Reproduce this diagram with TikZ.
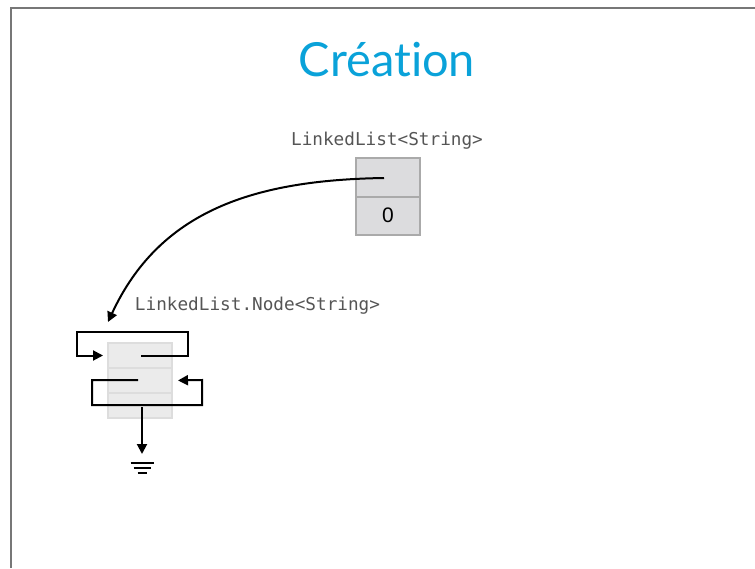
\documentclass[tikz,border=0pt]{standalone}
\usepackage{fontspec}
\setmainfont{Lato}
\newfontfamily\titlefont[Ligatures=NoCommon]{Lato}
\newfontfamily\monofont{DejaVu Sans Mono}
\newfontfamily\cellfont{Liberation Sans}
\usetikzlibrary{arrows.meta}
\definecolor{titleblue}{HTML}{0AA2D9}
\definecolor{labelgray}{HTML}{555555}
\definecolor{cellfill}{HTML}{DCDCDE}
\definecolor{celldraw}{HTML}{AAAAAA}
\definecolor{nodefill}{HTML}{EBEBEB}
\definecolor{nodedraw}{HTML}{DDDDDD}
\definecolor{framegray}{HTML}{777777}
\tikzset{
  cell/.style={draw=celldraw, fill=cellfill, line width=2pt, minimum width=64pt, minimum height=38.5pt, inner sep=0pt, font=\cellfont\fontsize{21}{24}\selectfont},
  ncell/.style={draw=nodedraw, fill=nodefill, line width=2pt, minimum width=64pt, minimum height=25pt, inner sep=0pt},
  link/.style={line width=2pt, black},
  arr/.style={link, -{Triangle[length=10pt,width=10pt]}},
  mono/.style={font=\monofont\fontsize{17.7}{20}\selectfont, text=labelgray, inner sep=0pt},
  gnd/.style={line width=2.4pt, black}
}
\begin{document}
\begin{tikzpicture}[x=1pt,y=-1pt]
\useasboundingbox (0,0) rectangle (755,568);
\draw[framegray, line width=1.5pt] (11,568) -- (11,8) -- (755,8);
\node[font=\titlefont\fontsize{47}{52}\selectfont, text=titleblue, inner sep=0pt] (title) at (387,60) {Création};
\node[mono] (lbl1) at (387,141) {LinkedList<String>};
\node[cell] (h1) at (388,177.25) {};
\node[cell] (h2) at (388,215.75) {0};
\node[mono] (lbl2) at (257.5,306) {LinkedList.Node<String>};
\node[ncell] (n1) at (140,355.5) {};
\node[ncell] (n2) at (140,380.5) {};
\node[ncell] (n3) at (140,405.5) {};
\coordinate (hs) at (384,178);
\coordinate (ntop) at (108,322);
\draw[arr] (hs) .. controls (255,180) and (160,210) .. (ntop);
\draw[arr, shorten >=4pt] (141,355.5) -- (188,355.5) -- (188,332) -- (77,332) -- (77,355.5) -- (n1.west);
\draw[arr, shorten >=5pt] (138,380) -- (92,380) -- (92,405) -- (202,405) -- (202,380) -- (n2.east);
\coordinate (g) at (142,454);
\draw[arr] (142,407) -- (g);
\draw[gnd] (130.5,463) -- (153.5,463);
\draw[gnd] (133.5,468) -- (150.5,468);
\draw[gnd] (137.5,473) -- (146.5,473);
\end{tikzpicture}
\end{document}
